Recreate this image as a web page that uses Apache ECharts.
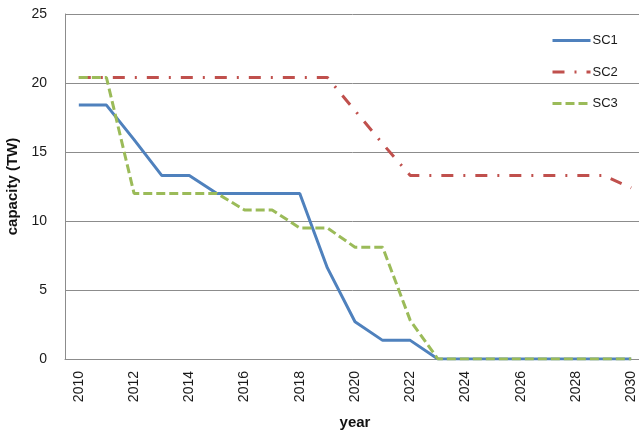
<!DOCTYPE html>
<html>
<head>
<meta charset="utf-8">
<script src="https://cdn.jsdelivr.net/npm/echarts@6/dist/echarts.min.js"></script>
<style>
html,body{margin:0;padding:0;background:#fff;}
#chart{width:639px;height:435px;}
</style>
</head>
<body>
<div id="chart"></div>
<script>
var years = ['2010','2011','2012','2013','2014','2015','2016','2017','2018','2019','2020','2021','2022','2023','2024','2025','2026','2027','2028','2029','2030'];
var sc1 = [18.4,18.4,15.9,13.3,13.3,12.0,12.0,12.0,12.0,6.6,2.7,1.35,1.35,0,0,0,0,0,0,0,0];
var sc2 = [20.4,20.4,20.4,20.4,20.4,20.4,20.4,20.4,20.4,20.4,18.0,15.6,13.3,13.3,13.3,13.3,13.3,13.3,13.3,13.3,12.4];
var sc3 = [20.4,20.4,12.0,12.0,12.0,12.0,10.8,10.8,9.5,9.5,8.1,8.1,2.8,0,0,0,0,0,0,0,0];
var seriesNames = ['SC1','SC2','SC3'];

var font = 'Liberation Sans';
var grey = '#8c8c8c';
var chart = echarts.init(document.getElementById('chart'), null, {renderer:'canvas'});
chart.setOption({
  animation:false,
  backgroundColor:'#fff',
  grid:{left:65, top:14, right:-6, bottom:76, containLabel:false, outerBoundsMode:'none'},
  legend:{
    data:seriesNames,
    orient:'vertical',
    left:551, top:34,
    padding:0,
    itemWidth:38, itemHeight:14, itemGap:18.5,
    itemStyle:{opacity:0},
    lineStyle:{width:3},
    textStyle:{fontFamily:font, fontSize:13, color:'#1a1a1a', padding:[0,0,0,-3]}
  },
  xAxis:{
    type:'category',
    data:years,
    boundaryGap:true,
    name:'year',
    nameLocation:'middle',
    nameGap:56,
    nameTextStyle:{fontFamily:font, fontSize:15, fontWeight:'bold', color:'#111', verticalAlign:'top'},
    axisLine:{lineStyle:{color:grey, width:1}},
    axisTick:{show:false},
    axisLabel:{interval:1, rotate:90, margin:12, fontFamily:font, fontSize:14, color:'#1a1a1a'}
  },
  yAxis:{
    type:'value',
    min:0, max:25, interval:5,
    name:'capacity (TW)',
    nameLocation:'middle',
    nameGap:40,
    nameRotate:90,
    nameTextStyle:{fontFamily:font, fontSize:15, fontWeight:'bold', color:'#111'},
    axisLine:{show:true, lineStyle:{color:grey, width:1}},
    axisTick:{show:false},
    splitLine:{lineStyle:{color:grey, width:1}},
    axisLabel:{margin:18, fontFamily:font, fontSize:14, color:'#1a1a1a'}
  },
  series:[
    {name:'SC1', type:'line', data:sc1, symbol:'none', color:'#4F81BD',
     lineStyle:{width:3, color:'#4F81BD'}},
    {name:'SC2', type:'line', data:sc2, symbol:'none', color:'#C0504D',
     lineStyle:{width:3, color:'#C0504D', type:[12,10,2,10]}},
    {name:'SC3', type:'line', data:sc3, symbol:'none', color:'#9BBB59',
     lineStyle:{width:3, color:'#9BBB59', type:[9,4]}}
  ]
});
</script>
</body>
</html>
